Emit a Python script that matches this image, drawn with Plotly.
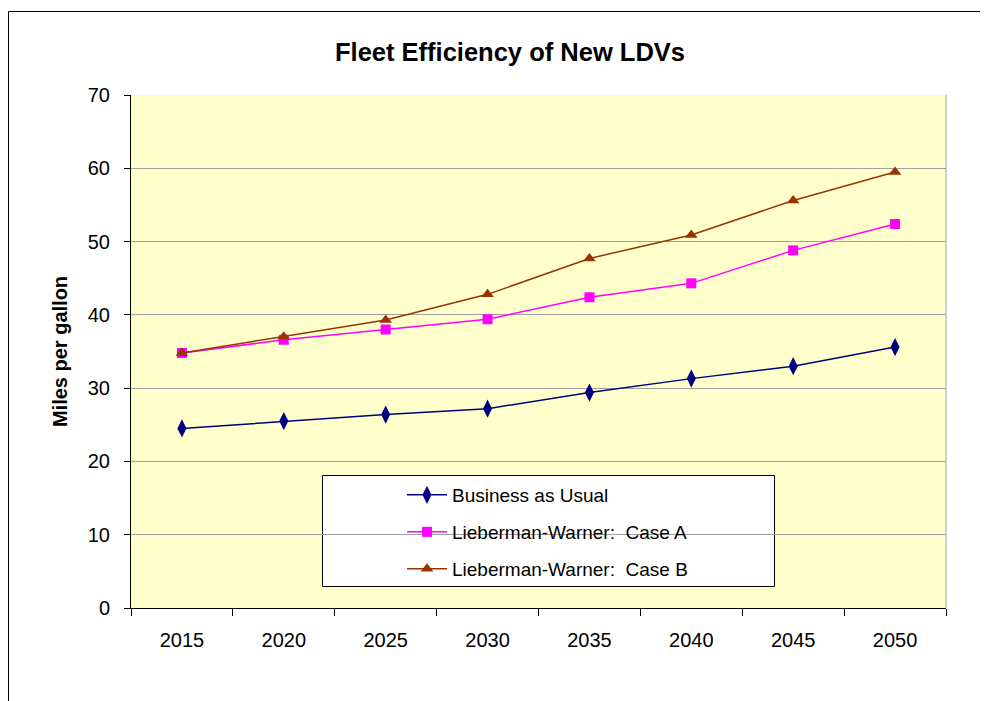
import plotly.graph_objects as go

years = ["2015", "2020", "2025", "2030", "2035", "2040", "2045", "2050"]
bau = [24.5, 25.5, 26.4, 27.2, 29.4, 31.3, 33.0, 35.6]
case_a = [34.8, 36.6, 38.0, 39.4, 42.4, 44.3, 48.8, 52.4]
case_b = [34.8, 37.0, 39.3, 42.8, 47.7, 50.9, 55.6, 59.5]
names = ["Business as Usual", "Lieberman-Warner:  Case A", "Lieberman-Warner:  Case B"]

FONT = "Liberation Sans, Arial, sans-serif"

# page is offset by the 8px default body margin; work in page pixels
OFF = 8
W, H = 980, 693
L, T = 131 - OFF, 95 - OFF
pw, ph = 815, 513
R = W - L - pw
B = H - T - ph

def px2x(px):
    return (px - OFF - L) / pw

def px2y(py):
    return (T + ph - (py - OFF)) / ph

fig = go.Figure()
fig.add_trace(go.Scatter(x=years, y=bau, name=names[0], mode="lines+markers",
                         line=dict(color="#000080", width=1.5),
                         marker=dict(symbol="diamond-tall", size=13, color="#000080"),
                         legend="legend", showlegend=True))
fig.add_trace(go.Scatter(x=years, y=case_a, name=names[1], mode="lines+markers",
                         line=dict(color="#FF00FF", width=1.5),
                         marker=dict(symbol="square", size=10, color="#FF00FF"),
                         legend="legend2", showlegend=True))
fig.add_trace(go.Scatter(x=years, y=case_b, name=names[2], mode="lines+markers",
                         line=dict(color="#993300", width=1.5),
                         marker=dict(symbol="triangle-up", size=11, color="#993300"),
                         legend="legend3", showlegend=True))

leg_common = dict(bgcolor="rgba(0,0,0,0)", borderwidth=0, font=dict(family=FONT, size=19, color="black"),
                  xanchor="left", yanchor="middle", itemwidth=40)
lx = px2x(402)

fig.update_layout(
    width=W, height=H,
    showlegend=True,
    margin=dict(l=L, r=R, t=T, b=B, autoexpand=False),
    paper_bgcolor="white",
    plot_bgcolor="#FFFFCC",
    font=dict(family=FONT, size=20, color="black"),
    title=dict(text="<b>Fleet Efficiency of New LDVs</b>", x=(510 - OFF) / W, xref="container",
               xanchor="center", y=1 - (52 - OFF) / H, yref="container", yanchor="middle",
               font=dict(family=FONT, size=25.5, color="black")),
    legend=dict(x=lx, y=px2y(495), **leg_common),
    legend2=dict(x=lx, y=px2y(532), **leg_common),
    legend3=dict(x=lx, y=px2y(569), **leg_common),
    xaxis=dict(type="category", range=[-0.5, 7.5], tickson="boundaries", ticks="outside", ticklen=7,
               tickcolor="black", showline=True, linecolor="black", linewidth=1, showgrid=False,
               tickfont=dict(family=FONT, size=20, color="black"), ticklabelstandoff=14),
    yaxis=dict(range=[0, 70], dtick=10, ticks="outside", ticklen=6, tickcolor="black",
               showline=True, linecolor="black", linewidth=1, showgrid=True, gridcolor="#A0A0A0",
               gridwidth=1, zeroline=False, tickfont=dict(family=FONT, size=20, color="black"),
               ticklabelstandoff=10,
               title=dict(text="<b>Miles per gallon</b>", standoff=14,
                          font=dict(family=FONT, size=20, color="black"))),
    shapes=[
        # right border of plot area
        dict(type="line", xref="paper", yref="paper", x0=1, x1=1, y0=0, y1=1,
             line=dict(color="#A0A0A0", width=1), layer="below"),
        # outer chart frame
        dict(type="rect", xref="paper", yref="paper", x0=px2x(8.5), x1=px2x(1000),
             y0=px2y(720), y1=px2y(11.5), line=dict(color="black", width=1), fillcolor="rgba(0,0,0,0)"),
        # legend box
        dict(type="rect", xref="paper", yref="paper", x0=px2x(322.5), x1=px2x(774.5),
             y0=px2y(586.5), y1=px2y(475.5), line=dict(color="black", width=1), fillcolor="white",
             layer="between"),
    ],
)

fig.write_html("out.html")
